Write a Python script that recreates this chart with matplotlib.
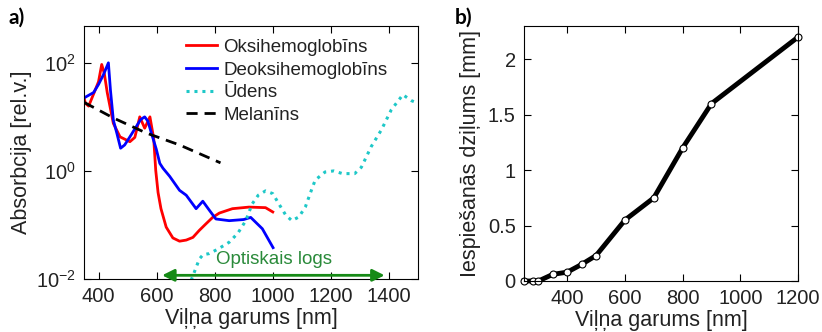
import numpy as np
import matplotlib
matplotlib.use("Agg")
import matplotlib.pyplot as plt

plt.rcParams['font.family'] = ['Liberation Sans', 'DejaVu Sans']
plt.rcParams['mathtext.default'] = 'regular'

# ---- Panel a data (wavelength nm, absorption rel. units) ----
oxy_wl = [350, 355, 366, 385, 400, 411, 420, 430, 451, 474, 508, 525, 542, 559, 577, 590, 597,
          605, 615, 633, 656, 679, 702, 725, 747, 770, 793, 816, 861, 918, 975, 1000]
oxy_abs = [22.4, 17.8, 15.8, 28.2, 44.7, 93.3, 63.1, 28.2, 7.59, 4.27, 3.47, 4.17, 10.0, 6.17,
           10.0, 3.98, 1.02, 0.398, 0.200, 0.0912, 0.0575, 0.0501, 0.0525, 0.0589, 0.0794,
           0.105, 0.138, 0.166, 0.200, 0.214, 0.209, 0.174]

deoxy_wl = [350, 383, 400, 417, 434, 441, 451, 463, 476, 490, 508, 530, 545, 559, 570, 582, 599,
            611, 622, 645, 679, 702, 736, 759, 782, 804, 850, 900, 924, 964, 1001]
deoxy_abs = [22.4, 28.2, 39.8, 60.3, 100.0, 31.6, 8.71, 5.01, 2.63, 3.02, 4.27, 6.61, 8.91, 10.0,
             8.32, 5.01, 2.51, 1.38, 1.12, 0.794, 0.437, 0.355, 0.200, 0.275, 0.186, 0.129,
             0.120, 0.126, 0.138, 0.0851, 0.0380]

water_wl = [719, 735, 747, 760, 781, 810, 850, 880, 907, 929, 950, 975, 1000, 1021, 1045, 1066,
            1090, 1112, 1130, 1146, 1180, 1210, 1240, 1282, 1305, 1339, 1374, 1408, 1448, 1477, 1500]
water_abs = [0.0095, 0.0158, 0.0234, 0.0282, 0.0295, 0.0355, 0.0479, 0.0708, 0.120, 0.245, 0.355,
             0.427, 0.380, 0.245, 0.151, 0.120, 0.141, 0.214, 0.398, 0.676, 0.955, 1.0, 0.891,
             0.891, 1.17, 2.82, 5.75, 13.5, 25.7, 20.0, 17.8]

mel_wl = [350, 451, 565, 679, 820]
mel_abs = [18.6, 9.55, 5.01, 3.02, 1.41]

window_range = [619, 1385]

# ---- Panel b data ----
depth_wl = [250, 280, 300, 350, 400, 450, 500, 600, 700, 800, 900, 1200]
depth_mm = [0.0, 0.0, 0.0, 0.06, 0.08, 0.15, 0.23, 0.55, 0.75, 1.2, 1.6, 2.2]

txt = '#222222'
fig = plt.figure(figsize=(8.22, 3.32), dpi=100)

# ---------- Panel a ----------
axa = fig.add_axes([84/822, 1-279/332, 334/822, 253/332])
axa.plot(oxy_wl, oxy_abs, color='#ff0000', lw=2.0, label='Oksihemoglobīns')
axa.plot(deoxy_wl, deoxy_abs, color='#0000ff', lw=2.0, label='Deoksihemoglobīns')
axa.plot(water_wl, water_abs, color='#1ec8c8', lw=2.2, ls=(0, (1, 1.6)), label='Ūdens')
axa.plot(mel_wl, mel_abs, color='black', lw=2.0, ls=(0, (4, 2.5)), label='Melanīns')
axa.set_yscale('log')
axa.set_xlim(350, 1500)
axa.set_ylim(1e-2, 480)
axa.set_xticks([400, 600, 800, 1000, 1200, 1400])
axa.set_yticks([1e-2, 1, 1e2])
axa.set_yticklabels(['$10^{-2}$', '$10^{0}$', '$10^{2}$'])
axa.yaxis.set_minor_locator(matplotlib.ticker.NullLocator())
axa.tick_params(direction='in', top=True, right=True, length=5, width=0.8,
                labelsize=14.5, pad=6, labelcolor=txt)
axa.set_xlabel('Viļņa garums [nm]', fontsize=15.5, color=txt, labelpad=1)
axa.set_ylabel('Absorbcija [rel.v.]', fontsize=15.5, color=txt, labelpad=3)

axa.annotate('', xy=(window_range[0], 0.0117), xytext=(window_range[1], 0.0117),
             arrowprops=dict(arrowstyle='<|-|>', color='#168a16', lw=2.0,
                             mutation_scale=18, shrinkA=0, shrinkB=0))
axa.text(1004, 0.0225, 'Optiskais logs', color='#2a8a3a', fontsize=13.5,
         ha='center', va='center')

leg = axa.legend(loc='upper left', bbox_to_anchor=(0.304, 0.95), frameon=False,
                 fontsize=13.5, labelspacing=0.3, handlelength=1.7, handletextpad=0.3,
                 borderpad=0, borderaxespad=0)
for t in leg.get_texts():
    t.set_color(txt)

fig.text(8/822, 1-18/332, 'a)', fontsize=15, fontweight='bold', family=['Lato', 'DejaVu Sans'],
         va='center', ha='left')

# ---------- Panel b ----------
axb = fig.add_axes([524/822, 1-281/332, 274/822, 255/332])
axb.plot(depth_wl, depth_mm, color='black', lw=3.5, marker='o', ms=5,
         mfc='white', mec='black', mew=0.8)
axb.set_xlim(250, 1200)
axb.set_ylim(0, 2.3)
axb.set_xticks([400, 600, 800, 1000, 1200])
axb.set_yticks([0, 0.5, 1, 1.5, 2])
axb.set_yticklabels(['0', '0.5', '1', '1.5', '2'])
axb.tick_params(direction='in', top=True, right=True, length=5, width=0.8,
                labelsize=14.5, pad=6, labelcolor=txt)
axb.set_xlabel('Viļņa garums [nm]', fontsize=15.5, color=txt, labelpad=1)
axb.set_ylabel('Iespiešanās dziļums [mm]', fontsize=15.5, color=txt, labelpad=5)
for ln in axb.lines:
    ln.set_clip_on(False)

fig.text(455/822, 1-18/332, 'b)', fontsize=15, fontweight='bold', family=['Lato', 'DejaVu Sans'],
         va='center', ha='left')

fig.savefig('out.png', dpi=100)
